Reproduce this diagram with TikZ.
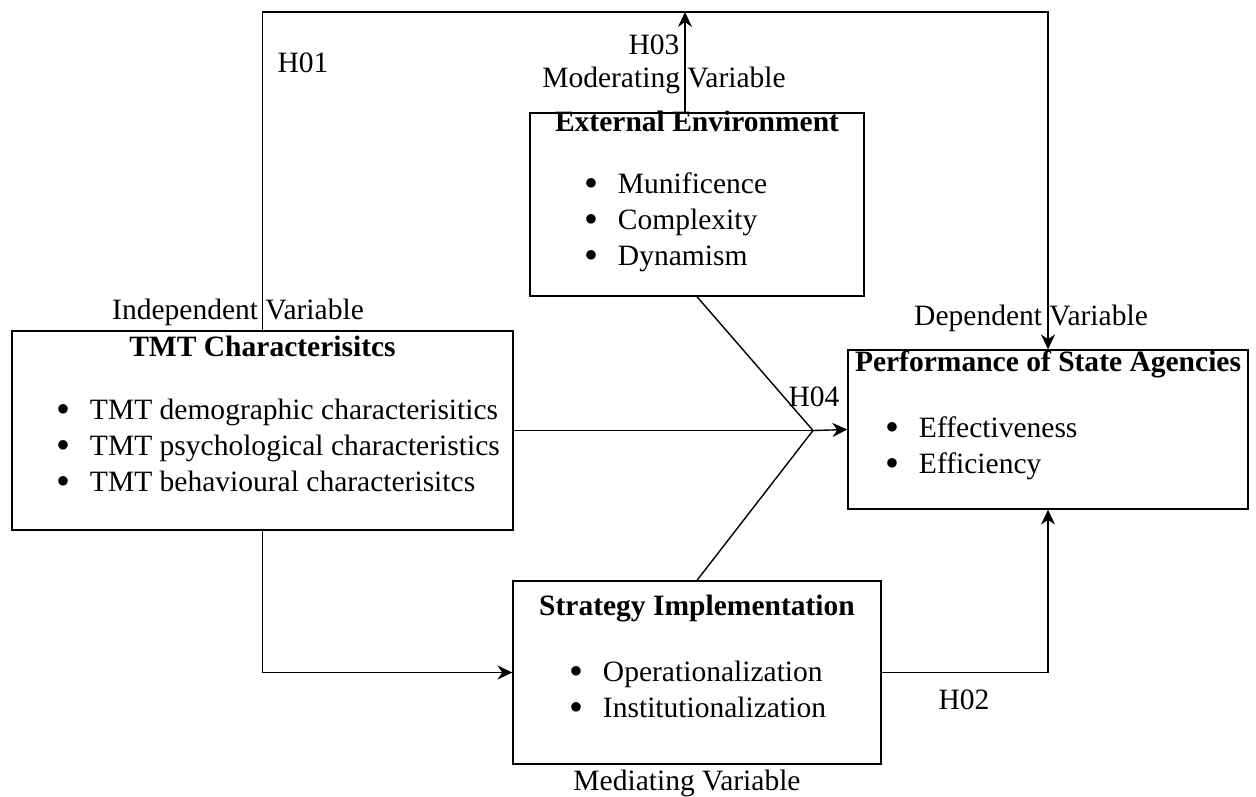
\documentclass[tikz,border=0pt]{standalone}
\usepackage{fontspec}
\setmainfont{Liberation Serif}
\usetikzlibrary{arrows.meta}
\newcommand{\varitem}{\raisebox{-1.5pt}{\scalebox{1.35}{\textbullet}}\hspace{11pt}}
\tikzset{
  every node/.style={font=\fontsize{16.8}{20.5}\selectfont, inner sep=0pt},
  varbox/.style={draw, line width=0.8pt, rectangle},
  vartitle/.style={font=\fontsize{16.8}{20.5}\selectfont\bfseries},
  varlist/.style={align=left, anchor=west},
  conn/.style={-{Stealth[length=8.5pt,width=8pt]}}
}
\begin{document}
\begin{tikzpicture}[x=0.02cm,y=-0.02cm,line width=0.8pt]
\useasboundingbox (0,0) rectangle (1256,796);
\node[varbox, minimum width=10.02cm, minimum height=3.98cm] (tmt) at (262.5,430.5) {};
\node[varbox, minimum width=6.68cm, minimum height=3.66cm] (ext) at (697,204.5) {};
\node[varbox, minimum width=8cm, minimum height=3.18cm] (perf) at (1048,429.5) {};
\node[varbox, minimum width=7.36cm, minimum height=3.66cm] (strat) at (697,672.5) {};
\node[vartitle] (tmttitle) at (262.5,346) {TMT Characterisitcs};
\node[vartitle] (exttitle) at (697,121) {External Environment};
\node[vartitle] (perftitle) at (1048,364) {Performance of State Agencies};
\node[vartitle] (strattitle) at (697,608) {Strategy Implementation};
\node[varlist] (tmtlist) at (56,447) {\varitem TMT demographic characterisitics\\
  \varitem TMT psychological characteristics\\
  \varitem TMT behavioural characterisitcs};
\node[varlist] (extlist) at (584,222.5) {\varitem Munificence\\
  \varitem Complexity\\
  \varitem Dynamism};
\node[varlist] (perflist) at (885,448.5) {\varitem Effectiveness\\
  \varitem Efficiency};
\node[varlist] (stratlist) at (569,690.5) {\varitem Operationalization\\
  \varitem Institutionalization};
\node (h01) at (303,63) {H01};
\node (h02) at (964,700) {H02};
\node (h03) at (654,45) {H03};
\node (h04) at (814,397) {H04};
\node (indep) at (238,312) {Independent Variable};
\node (dep) at (1031,318) {Dependent Variable};
\node (moder) at (664,80) {Moderating Variable};
\node (medi) at (687,783) {Mediating Variable};
\coordinate (loopL) at (262.5,12);
\coordinate (loopR) at (1048,12);
\coordinate (h03end) at (685,12);
\coordinate (junc) at (813,430.5);
\draw[conn] (tmt.north) -- (loopL) -- (loopR) -- (perf.north);
\draw[conn] (ext.north -| h03end) -- (h03end);
\draw (tmt.east) -- (junc);
\draw (ext.south) -- (junc);
\draw (strat.north) -- (junc);
\draw[conn] (junc) -- (perf.west);
\draw[conn] (tmt.south) |- (strat.west);
\draw[conn] (strat.east) -| (perf.south);
\end{tikzpicture}
\end{document}
